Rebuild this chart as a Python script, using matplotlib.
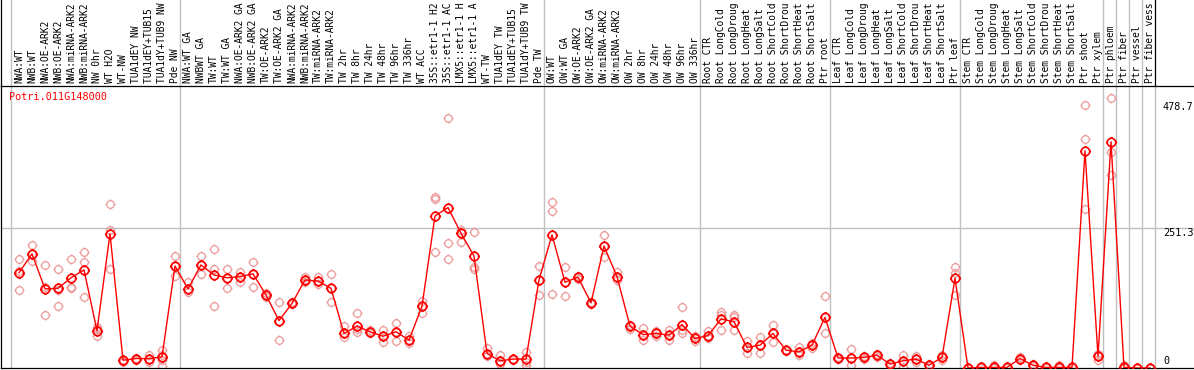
import matplotlib
matplotlib.use("Agg")
import matplotlib.pyplot as plt
from matplotlib.path import Path
from matplotlib.transforms import blended_transform_factory
import numpy as np

# ---------------- data ----------------
title = "Potri.011G148000"

labels = [
    "NWA:WT", "NWB:WT", "NWA:OE-ARK2", "NWB:OE-ARK2", "NWA:miRNA-ARK2", "NWB:miRNA-ARK2",
    "NW 0hr", "WT H2O", "WT-NW", "TUA1dEY NW", "TUA1dEY+TUB15 NW", "TUA1dY+TUB9 NW", "Pde NW",
    "NWA:WT GA", "NWBWT GA", "TW:WT", "TW:WT GA", "NWA:OE-ARK2 GA", "NWB:OE-ARK2 GA",
    "TW:OE-ARK2", "TW:OE-ARK2 GA", "NWA:miRNA-ARK2", "NWB:miRNA-ARK2", "TW:miRNA-ARK2",
    "TW:miRNA-ARK2", "TW 2hr", "TW 8hr", "TW 24hr", "TW 48hr", "TW 96hr", "TW 336hr",
    "WT ACC", "35S::etr1-1 H2O", "35S::etr1-1 ACC", "LMX5::etr1-1 H2O", "LMX5::etr1-1 ACC",
    "WT-TW", "TUA1dEY TW", "TUA1dEY+TUB15 TW", "TUA1dY+TUB9 TW", "Pde TW",
    "OW:WT", "OW:WT GA", "OW:OE-ARK2", "OW:OE-ARK2 GA", "OW:miRNA-ARK2", "OW:miRNA-ARK2",
    "OW 2hr", "OW 8hr", "OW 24hr", "OW 48hr", "OW 96hr", "OW 336hr",
    "Root CTR", "Root LongCold", "Root LongDrought", "Root LongHeat", "Root LongSalt",
    "Root ShortCold", "Root ShortDrought", "Root ShortHeat", "Root ShortSalt", "Ptr root",
    "Leaf CTR", "Leaf LongCold", "Leaf LongDrought", "Leaf LongHeat", "Leaf LongSalt",
    "Leaf ShortCold", "Leaf ShortDrought", "Leaf ShortHeat", "Leaf ShortSalt", "Ptr leaf",
    "Stem CTR", "Stem LongCold", "Stem LongDrought", "Stem LongHeat", "Stem LongSalt",
    "Stem ShortCold", "Stem ShortDrought", "Stem ShortHeat", "Stem ShortSalt",
    "Ptr shoot", "Ptr xylem", "Ptr phloem", "Ptr fiber", "Ptr vessel", "Ptr fiber vessel",
]

# sizes of the column groups (separated by gray lines)
group_sizes = [13, 28, 12, 10, 10, 11, 1, 1, 1, 1]

means = [
    171, 205, 142, 143, 162, 176, 67, 241, 14, 17, 17, 20, 183,
    142, 185, 167, 162, 164, 169, 131, 85, 116,
    158, 156, 143, 62, 75, 65, 57, 65, 50, 111, 273, 288, 242, 201, 26, 13, 16, 16, 158,
    239, 154, 163, 117, 219, 164, 75, 60, 62, 59, 78, 53,
    58, 88, 83, 37, 41, 62, 32, 29, 41, 91,
    18, 18, 19, 23, 7, 13, 16, 5, 19, 161,
    0, 1, 1, 1, 17, 5, 1, 1, 1, 390, 21,
    406, 1, 0, 0,
]

replicates = [
    [195, 175, 140], [220, 205, 192], [185, 145, 95], [178, 140, 111], [195, 145, 143],
    [209, 191, 127], [74, 70, 57], [294, 248, 177], [15, 12, 10], [18, 16, 14],
    [23, 17, 10], [32, 24, 14, 4], [201, 183, 165],
    [154, 142, 136], [201, 185, 169], [213, 177, 111], [177, 162, 143], [173, 164, 155],
    [190, 169, 145], [134, 131, 127], [118, 85, 50], [119, 116, 114],
    [163, 158, 154], [164, 156, 150], [169, 143, 119], [75, 62, 55], [98, 70, 65],
    [68, 65, 62], [69, 57, 47], [81, 65, 48], [58, 50, 44], [121, 111, 99],
    [307, 303, 209], [449, 224, 195], [248, 242, 227], [244, 182, 177], [36, 26, 21],
    [23, 13, 8], [17, 16, 14], [29, 16, 10, 5], [183, 158, 131],
    [298, 282, 132], [181, 154, 129], [166, 163, 159], [119, 117, 115], [239, 219, 200],
    [172, 164, 158], [77, 75, 70], [71, 60, 51], [66, 62, 58], [69, 59, 51],
    [109, 68, 62], [58, 53, 48],
    [66, 58, 54], [101, 96, 69], [95, 92, 68], [49, 37, 27], [55, 41, 27],
    [77, 62, 46], [33, 32, 30], [38, 29, 23], [45, 41, 36], [129, 91, 62],
    [20, 18, 16], [35, 18, 5], [21, 19, 17], [26, 23, 19], [9, 7, 4],
    [23, 13, 2], [21, 16, 11], [7, 5, 4], [23, 19, 14], [181, 171, 131],
    [0, 0, 0], [1, 1, 0], [5, 1, 0], [1, 1, 0], [19, 17, 14],
    [7, 5, 3], [1, 1, 0], [5, 1, 0], [1, 0, 0], [472, 411, 285], [25, 21, 14],
    [484, 388, 347], [5, 1, 0], [0, 0, 0], [0, 0, 0],
]

ytick_values = [478.7, 251.3, 0]
grid_value = 251.3

# ---------------- figure ----------------
W, H = 1194, 370
fig = plt.figure(figsize=(W / 100, H / 100), dpi=100)
mono = "DejaVu Sans Mono"

n = len(labels)
x = np.arange(n)
px_per_col = 13.0
first_px = 19.0
xlim = ((1 - first_px) / px_per_col, (W - first_px) / px_per_col)

plot_top_px, plot_bot_px = 86, 368
ax = fig.add_axes([1 / W, (H - plot_bot_px) / H, (W - 1) / W, (plot_bot_px - plot_top_px) / H])
ax.set_xlim(*xlim)
ax.set_ylim(0, 506.2)
ax.set_xticks([])
ax.set_yticks([])
for s in ["left", "bottom", "top"]:
    ax.spines[s].set_color("black")
    ax.spines[s].set_linewidth(0.9)
ax.spines["right"].set_visible(False)

# group separators
bounds = np.cumsum([0] + group_sizes) - 0.62
for b in bounds:
    ax.axvline(b, color="#c0c0c0", lw=1.0, zorder=1)
ax.axhline(grid_value, color="#c0c0c0", lw=1.0, zorder=1)

# custom marker: circle with four short outward ticks
theta = np.linspace(0, 2 * np.pi, 33)
circ_verts = np.column_stack([np.cos(theta), np.sin(theta)])
circ_codes = [Path.MOVETO] + [Path.LINETO] * 32
t = 1.32
tick_verts = [(0, 1), (0, t), (0, -1), (0, -t), (1, 0), (t, 0), (-1, 0), (-t, 0)]
tick_codes = [Path.MOVETO, Path.LINETO] * 4
marker = Path(np.vstack([circ_verts, tick_verts]), circ_codes + tick_codes)

# replicates
rx, ry = [], []
for i, reps in enumerate(replicates):
    for v in reps:
        rx.append(i)
        ry.append(v)
ax.plot(rx, ry, linestyle="none", marker=marker, markersize=7.2,
        markerfacecolor="none", markeredgecolor="#ec9a9a", markeredgewidth=0.9, zorder=2)

# mean line
ax.plot(x, means, color="#ff0000", lw=1.0, zorder=3)
ax.plot(x, means, linestyle="none", marker=marker, markersize=8.0,
        markerfacecolor="none", markeredgecolor="#ff0000", markeredgewidth=1.2, zorder=4)

# title
ax.text(8.5 / (W - 1), 1 - 5.5 / (plot_bot_px - plot_top_px), title, transform=ax.transAxes,
        color="#ff0000", fontsize=7.3, family=mono, ha="left", va="top")

# right-side value labels
offsets = {478.7: -5.5, 251.3: -4.5, 0: 6.5}
for v in ytick_values:
    ax.annotate(f"{v:g}", xy=((1163 - first_px) / px_per_col, v), xycoords="data",
                xytext=(0, offsets[v] * 0.72), textcoords="offset points",
                ha="left", va="center", fontsize=7.3, family=mono, color="black",
                annotation_clip=False)

# header with rotated labels
hx = fig.add_axes([1 / W, (H - plot_top_px) / H, (W - 1) / W, plot_top_px / H])
hx.set_xlim(*xlim)
hx.set_ylim(0, plot_top_px)
hx.set_xticks([])
hx.set_yticks([])
for s in ["top", "right", "bottom"]:
    hx.spines[s].set_visible(False)
hx.spines["left"].set_color("black")
hx.spines["left"].set_linewidth(0.9)
hx.patch.set_alpha(0)
for b in bounds[:-1]:
    hx.axvline(b, color="#c0c0c0", lw=1.0)
hx.axvline(bounds[-1], color="black", lw=0.9)
for i, lab in enumerate(labels):
    hx.text(i, 3, lab[:14], rotation=90, rotation_mode="anchor", ha="left", va="center",
            fontsize=6.9, family=mono, color="black", clip_on=False)

fig.savefig("out.png", dpi=100)
